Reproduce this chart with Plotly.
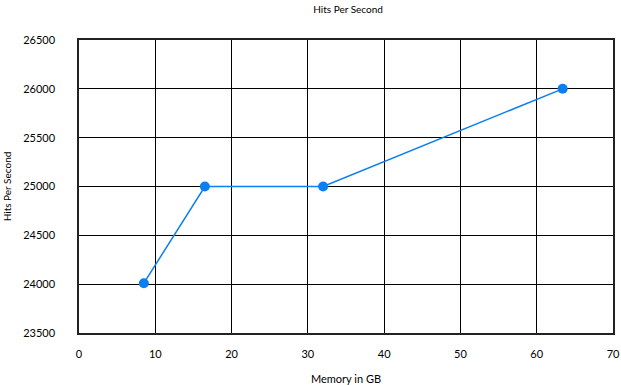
import plotly.graph_objects as go

memory_gb = [8.5, 16.5, 32.0, 63.4]
hits_per_second = [24010, 25000, 25000, 26000]
x_ticks = [0, 10, 20, 30, 40, 50, 60, 70]
y_ticks = [23500, 24000, 24500, 25000, 25500, 26000, 26500]

fig = go.Figure()
fig.add_trace(go.Scatter(
    x=memory_gb, y=hits_per_second, mode="lines+markers",
    line=dict(color="#0a7ff0", width=1.5),
    marker=dict(color="#0a7ff0", size=10),
    showlegend=False,
))

font = dict(family="Lato, Open Sans, sans-serif", size=11, color="#000")
fig.update_layout(
    width=621, height=385,
    margin=dict(l=79, r=1, t=40, b=51),
    paper_bgcolor="white", plot_bgcolor="white",
    font=font,
    title=dict(text="Hits Per Second", x=0.5605, xanchor="center", y=0.985, yanchor="top",
               font=dict(family="Lato, Open Sans, sans-serif", size=10, color="#000")),
)
fig.update_xaxes(
    range=[0, 70], tickvals=x_ticks, ticks="", showgrid=True, gridcolor="#000", gridwidth=1,
    showline=True, linecolor="#222", linewidth=1.5, mirror=True, zeroline=False,
    ticklabelstandoff=10, ticklabeloverflow="allow",
    title=dict(text="Memory in GB", standoff=16, font=dict(size=11)),
)
fig.update_yaxes(
    range=[23500, 26500], tickvals=y_ticks, ticks="", showgrid=True, gridcolor="#000", gridwidth=1,
    showline=True, linecolor="#222", linewidth=1.5, mirror=True, zeroline=False,
    ticklabelstandoff=20, tickformat="d",
    title=dict(text="Hits Per Second", standoff=10, font=dict(size=10)),
)
fig.write_html("out.html")
